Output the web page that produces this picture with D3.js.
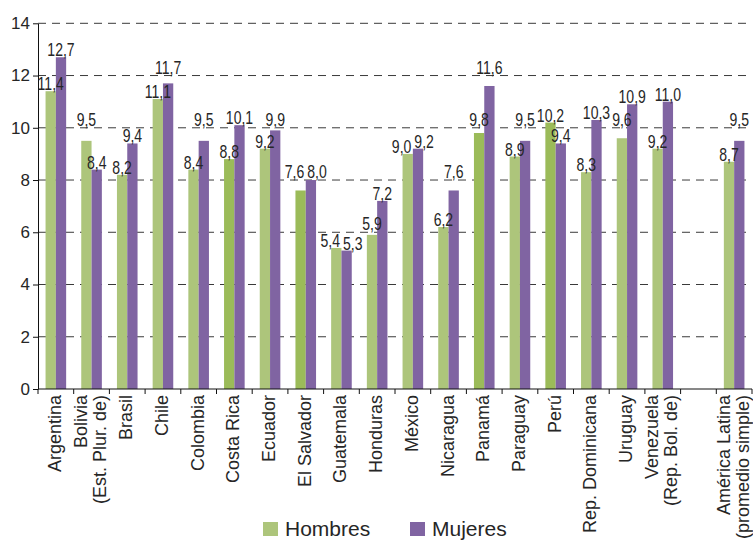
<!DOCTYPE html>
<html><head><meta charset="utf-8">
<script src="https://cdn.jsdelivr.net/npm/d3@7"></script>
<style>html,body{margin:0;padding:0;background:#fff}</style>
</head><body><svg id="c" width="753" height="540"></svg>
<script>
const categories = ["Argentina", "Bolivia\n(Est. Plur. de)", "Brasil", "Chile", "Colombia", "Costa Rica", "Ecuador", "El Salvador", "Guatemala", "Honduras", "México", "Nicaragua", "Panamá", "Paraguay", "Perú", "Rep. Dominicana", "Uruguay", "Venezuela\n(Rep. Bol. de)", "", "América Latina\n(promedio simple)"];
const hombres = [11.4, 9.5, 8.2, 11.1, 8.4, 8.8, 9.2, 7.6, 5.4, 5.9, 9.0, 6.2, 9.8, 8.9, 10.2, 8.3, 9.6, 9.2, null, 8.7];
const mujeres = [12.7, 8.4, 9.4, 11.7, 9.5, 10.1, 9.9, 8.0, 5.3, 7.2, 9.2, 7.6, 11.6, 9.5, 9.4, 10.3, 10.9, 11.0, null, 9.5];
const highlighted = ["Costa Rica", "El Salvador", "Panamá", "Perú"];
const seriesNames = ["Hombres", "Mujeres"];
const yTicks = [0, 2, 4, 6, 8, 10, 12, 14];

const FONT = "'Liberation Sans', Arial, Helvetica, sans-serif";
const GREEN = "#adc57b", GREEN_DARK = "#9bbb59", PURPLE = "#8064a2", TXT = "#262626";
const svg = d3.select("#c").style("font-family", FONT);

const x0 = d3.scaleBand().domain(categories).range([38, 752]);
const x1 = d3.scaleBand().domain(seriesNames).range([0, x0.bandwidth()]).paddingOuter(0.733);
const y = d3.scaleLinear().domain([0, 14]).range([389, 23.3]);
const fmt = v => d3.format(".1f")(v).replace(".", ",");

// gridlines
svg.append("g").selectAll("line").data(yTicks.filter(t => t > 0)).join("line")
  .attr("x1", 38).attr("x2", 750).attr("y1", d => y(d)).attr("y2", d => y(d))
  .attr("stroke", "#3a3a3a").attr("stroke-width", 1).attr("stroke-dasharray", "8,6");

// bars
const rows = categories.map((c, i) => ({c, vals: [hombres[i], mujeres[i]]}));
const bars = svg.append("g");
rows.forEach(r => {
  r.vals.forEach((v, k) => {
    if (v == null) return;
    const fill = k === 0 ? (highlighted.includes(r.c) ? GREEN_DARK : GREEN) : PURPLE;
    bars.append("rect")
      .attr("x", x0(r.c) + x1(seriesNames[k]))
      .attr("width", x1.bandwidth())
      .attr("y", y(v)).attr("height", y(0) - y(v))
      .attr("fill", fill);
  });
});

// y axis
const ya = svg.append("g").attr("transform", "translate(38,0)")
  .call(d3.axisLeft(y).tickValues(yTicks).tickSize(5).tickSizeOuter(0).tickPadding(3).tickFormat(d3.format("d")));
ya.select(".domain").attr("stroke", "#111");
ya.selectAll(".tick line").attr("stroke", "#111");
ya.selectAll("text").attr("font-size", 17).attr("fill", TXT).attr("font-family", FONT);

// x axis
svg.append("line").attr("x1", 38).attr("x2", 752).attr("y1", y(0)).attr("y2", y(0)).attr("stroke", "#111");
const bounds = categories.map(c => x0(c)).concat([x0(categories[categories.length - 1]) + x0.bandwidth()]);
svg.append("g").selectAll("line").data(bounds).join("line")
  .attr("x1", d => d).attr("x2", d => d).attr("y1", y(0)).attr("y2", y(0) + 5).attr("stroke", "#111");

// x labels
const xl = svg.append("g");
categories.forEach(c => {
  if (!c) return;
  const lines = c.split("\n");
  const cx = x0(c) + x0.bandwidth() / 2;
  const g = xl.append("g").attr("transform", `translate(${cx},395) rotate(-90)`);
  lines.forEach((ln, k) => {
    g.append("text").attr("x", 0).attr("y", 5 + (k - (lines.length - 1) / 2) * 19)
      .attr("text-anchor", "end").attr("font-size", 18).attr("fill", TXT).text(ln);
  });
});

// data labels
const SX = 0.78, CAP = 13;
const grid = yTicks.filter(t => t > 0).map(t => y(t));
const lab = svg.append("g");
rows.forEach(r => {
  const items = [];
  r.vals.forEach((v, k) => {
    if (v == null) return;
    let b = y(v) - 1;
    const hit = grid.find(g => g >= b - CAP && g <= b + 1);
    if (hit !== undefined) b = hit - 2;
    const cx = x0(r.c) + x1(seriesNames[k]) + x1.bandwidth() / 2;
    const g = lab.append("g").attr("transform", `translate(${cx},${b})`);
    const t = g.append("text").attr("transform", `scale(${SX},1)`).attr("text-anchor", "middle")
      .attr("font-size", 18).attr("fill", TXT).text(fmt(v));
    const w = t.node().getComputedTextLength() * SX;
    items.push({g, cx, b, w});
  });
  if (items.length === 2) {
    const [a, bb] = items;
    if (Math.abs(a.b - bb.b) < CAP) {
      const overlap = (a.w / 2 + bb.w / 2 + 3) - (bb.cx - a.cx);
      if (overlap > 0) {
        a.cx -= overlap / 2; bb.cx += overlap / 2;
        a.g.attr("transform", `translate(${a.cx},${a.b})`);
        bb.g.attr("transform", `translate(${bb.cx},${bb.b})`);
      }
    }
  }
});

// legend
const leg = svg.append("g");
[{n: seriesNames[0], c: GREEN, x: 263}, {n: seriesNames[1], c: PURPLE, x: 410}].forEach(d => {
  leg.append("rect").attr("x", d.x).attr("y", 522).attr("width", 15).attr("height", 14).attr("fill", d.c);
  leg.append("text").attr("x", d.x + 22).attr("y", 536).attr("font-size", 21).attr("fill", TXT).text(d.n);
});
</script></body></html>
